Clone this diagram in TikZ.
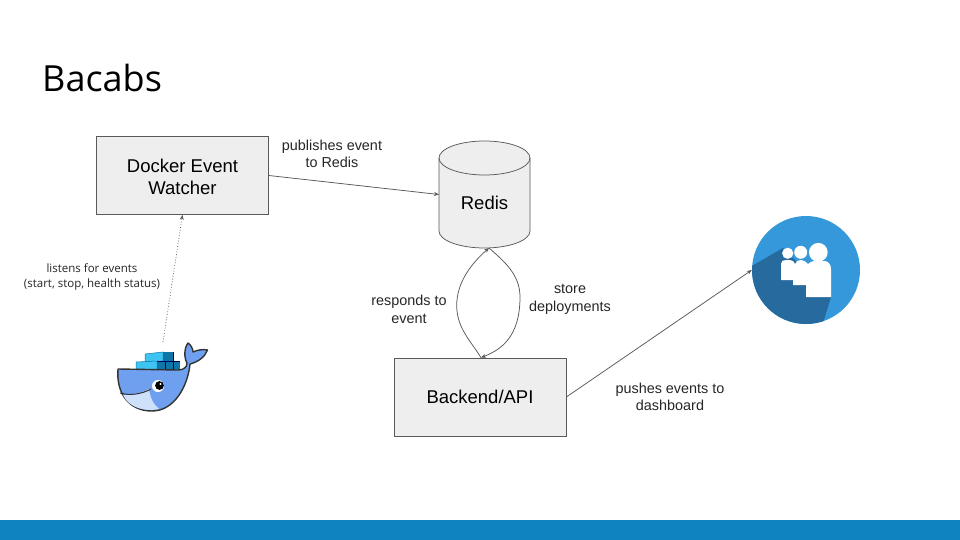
\documentclass[tikz,border=0pt]{standalone}
\usepackage{fontspec}
\setmainfont{Liberation Sans}
\newfontfamily\opensans{Open Sans}
\usetikzlibrary{shapes.geometric,arrows.meta}
\definecolor{boxfill}{HTML}{EEEEEE}
\definecolor{edge}{HTML}{595959}
\definecolor{footer}{HTML}{0F83C0}
\definecolor{logoblue}{HTML}{3498DB}
\definecolor{logodark}{HTML}{266A9E}
\definecolor{whaleblue}{HTML}{6FA0F0}
\definecolor{whalelight}{HTML}{CFE0FB}
\definecolor{crateLight}{HTML}{3EC4F2}
\definecolor{crateDark}{HTML}{0F76A8}
\tikzset{
  x=1pt,y=-1pt,
  boxnode/.style={draw=edge,fill=boxfill,line width=0.75pt,minimum width=172pt,minimum height=78pt,inner sep=0pt,align=center,font=\fontsize{18.5}{22}\selectfont},
  cylbody/.style={draw=edge,fill=boxfill,line width=0.75pt},
  cylanchor/.style={minimum width=91pt,minimum height=107pt,inner sep=0pt,outer sep=0pt},
  conn/.style={draw=edge,line width=0.75pt,-{Stealth[length=5pt,width=4pt]}},
  lab/.style={align=center,inner sep=0pt,font=\fontsize{14.4}{17.5}\selectfont,text=black!85},
  smalllab/.style={align=center,inner sep=0pt,font=\opensans\fontsize{11.5}{15}\selectfont,text=black!85},
}
\begin{document}
\begin{tikzpicture}
\useasboundingbox (0,0) rectangle (960,540);
\fill[white] (0,0) rectangle (960,540);
\fill[footer] (0,520) rectangle (960,540);
\node[anchor=west,inner sep=0pt,font=\opensans\fontsize{36}{40}\selectfont,text=black] (title) at (42,78) {Bacabs};

\node[boxnode] (watcher) at (182.5,175.5) {\rule{0pt}{16pt}Docker Event\\Watcher};
\node[boxnode] (backend) at (480,397) {Backend/API};

% Redis cylinder
\node[cylanchor] (redis) at (484.5,194.5) {};
\path[cylbody] ([yshift=-17pt]redis.north west) -- ([yshift=17pt]redis.south west)
  arc[start angle=180,end angle=360,x radius=45.5pt,y radius=17pt]
  -- ([yshift=-17pt]redis.north east)
  arc[start angle=0,end angle=180,x radius=45.5pt,y radius=17pt] -- cycle;
\draw[cylbody,fill=none] ([yshift=-17pt]redis.north west)
  arc[start angle=180,end angle=360,x radius=45.5pt,y radius=17pt];
\node[font=\fontsize{18.5}{22}\selectfont,inner sep=0pt] (redislabel) at (484.5,203) {Redis};

% dashboard logo
\node[circle,fill=logoblue,minimum size=108pt,inner sep=0pt] (dash) at (806,270) {};
\begin{scope}
\clip (806,270) circle (54);
\fill[logodark] (750,267) -- (783,248) -- (831,297) -- (821,330) -- (740,330) -- cycle;
\end{scope}
\fill[white] (787.7,253.3) circle (5.6) (800.7,252.3) circle (6.5) (818.3,252.3) circle (9.4);
\fill[white] (781,280) -- (781,264) .. controls (781,261) and (783,260) .. (786,260)
  -- (790,260) .. controls (793,260) and (794,262) .. (795,264)
  .. controls (796,261) and (798,260) .. (801,260)
  .. controls (804,260) and (806,262) .. (808,264)
  .. controls (810,262) and (812,261) .. (816,261)
  -- (824,261) .. controls (828,261) and (831,264) .. (831,269)
  -- (831,297) -- (806,297) -- (806,285) -- (793,285) -- (793,280) -- cycle;

% whale
\coordinate (whaletop) at (163,342);
\begin{scope}
\path[fill=crateLight,draw=crateDark,line width=0.5pt] (145,354) -- (163,352) -- (163,361) -- (145,362) -- cycle;
\path[fill=crateLight,draw=crateDark,line width=0.5pt] (136,362) -- (157,361) -- (157,371) -- (136,369) -- cycle;
\path[fill=crateDark] (163,352) rectangle (173,361);
\path[fill=crateDark] (157,361) rectangle (180,371);
\draw[black!60!blue,line width=0.5pt] (165,361) -- (165,371) (173,352) -- (173,371) (157,361) -- (180,361);
\path[fill=whaleblue,draw=black!80,line width=1.4pt,line join=round]
  (118,369) -- (178,370)
  .. controls (184,370) and (187,367) .. (187,363)
  .. controls (184,358) and (184,348) .. (188,343)
  .. controls (191,345) and (193,349) .. (193,352)
  .. controls (197,350) and (203,349) .. (207.5,350)
  .. controls (205,357) and (198,362) .. (190,364)
  .. controls (188,385) and (175,411) .. (152,411)
  .. controls (128,411) and (116,392) .. (118,369) -- cycle;
\fill[whalelight] (123,395) .. controls (132,395) and (142,393) .. (149,389)
  .. controls (150,398) and (154,405) .. (159,409)
  .. controls (145,412) and (129,408) .. (123,395) -- cycle;
\draw[black!80,line width=1pt] (120,393) .. controls (130,396) and (142,394) .. (151,389);
\fill[white] (158,386) circle (6);
\fill[black] (159.5,385.5) circle (4.4);
\fill[white] (160.5,384) circle (1.2);
\end{scope}

% connectors
\coordinate (redistip) at ([xshift=4.5pt]redis.south);
\coordinate (backtip) at ([xshift=1pt]backend.north);
\draw[conn] (watcher.east) -- (redis.west);
\draw[conn,dotted] (whaletop) -- (watcher.south);
\draw[conn] (backtip) .. controls (470,340) and (457,328) .. (456.7,306)
  .. controls (456.5,282) and (472,263) .. (redistip);
\draw[conn] (redistip) .. controls (505,262) and (520,275) .. (520,297)
  .. controls (520,338) and (500,350) .. (backtip);
\draw[conn] (backend.east) -- (dash.west);

% labels
\node[lab] (l1) at (332,154) {publishes event\\to Redis};
\node[smalllab] (l2) at (92,276.5) {listens for events\\(start, stop, health status)};
\node[lab] (l3) at (409,309.5) {responds to\\event};
\node[lab] (l4) at (570,299.5) {store\\deployments};
\node[lab] (l5) at (670,397) {pushes events to\\dashboard};
\end{tikzpicture}
\end{document}
